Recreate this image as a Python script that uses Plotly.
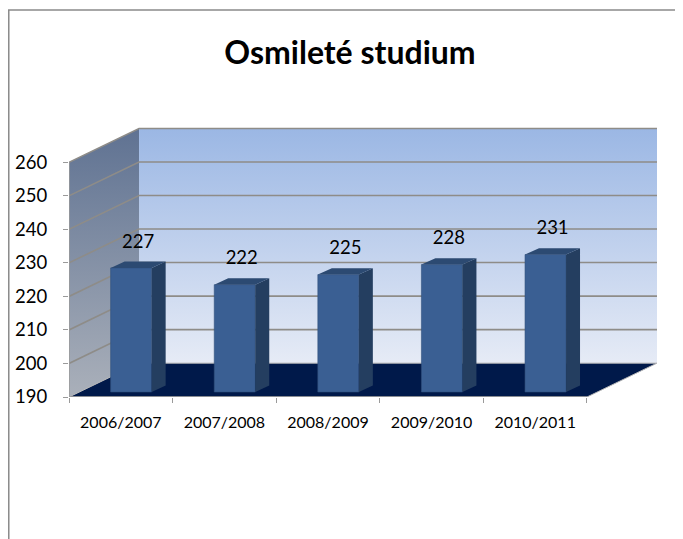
import plotly.graph_objects as go

# data
years = ['2006/2007', '2007/2008', '2008/2009', '2009/2010', '2010/2011']
students = [227, 222, 225, 228, 231]
y_ticks = [190, 200, 210, 220, 230, 240, 250, 260]

FONT = 'Lato'
Y_MIN, Y_MAX = 190, 260
DX, DY = 0.676, 10.1          # depth of the 3D box in axis units
BAR_W, BAR_OFF, BAR_LIFT = 0.396, 0.1, 1.5
BDX, BDY = 0.135, 1.9         # depth of each bar
n = len(years)
x_left, x_right = -0.5, n - 0.5

fig = go.Figure()

# ---- walls and floor (base subplot) ----
fig.add_trace(go.Scatter(
    x=[x_left + DX, x_right + DX, x_right + DX, x_left + DX, x_left + DX],
    y=[Y_MIN + DY, Y_MIN + DY, Y_MAX + DY, Y_MAX + DY, Y_MIN + DY],
    fill='toself', mode='lines', line=dict(width=0),
    fillgradient=dict(type='vertical', colorscale=[[0, '#e6ebf6'], [1, '#9bb7e4']]),
    hoverinfo='skip', showlegend=False))

fig.add_trace(go.Scatter(
    x=[x_left, x_left, x_left + DX, x_left + DX, x_left],
    y=[Y_MIN, Y_MAX, Y_MAX + DY, Y_MIN + DY, Y_MIN],
    fill='toself', mode='lines', line=dict(width=0),
    fillgradient=dict(type='vertical', colorscale=[[0, '#aab0ba'], [1, '#5f7292']]),
    hoverinfo='skip', showlegend=False))

gx, gy = [], []
for v in y_ticks[1:]:
    gx += [x_left, x_left + DX, x_right + DX, None]
    gy += [v, v + DY, v + DY, None]
fig.add_trace(go.Scatter(x=gx, y=gy, mode='lines',
                         line=dict(color='#8e8c88', width=1.6),
                         hoverinfo='skip', showlegend=False))

fig.add_trace(go.Scatter(
    x=[x_left, x_right, x_right + DX, x_left + DX, x_left],
    y=[Y_MIN, Y_MIN, Y_MIN + DY, Y_MIN + DY, Y_MIN],
    fill='toself', mode='lines', line=dict(color='#b8b8b8', width=1),
    fillcolor='#00194a', hoverinfo='skip', showlegend=False))

# front axis lines
fig.add_trace(go.Scatter(
    x=[x_left, x_left, None, x_left, x_right],
    y=[Y_MAX, Y_MIN, None, Y_MIN, Y_MIN],
    mode='lines', line=dict(color='#9a9a9a', width=1.5),
    hoverinfo='skip', showlegend=False))

# ---- bars (overlay subplot) ----
xs = [i + BAR_OFF for i in range(n)]
base = Y_MIN + BAR_LIFT
fig.add_trace(go.Bar(
    x=xs, y=[v - Y_MIN for v in students], base=base, width=BAR_W,
    marker=dict(color='#3a5f93', line=dict(color='#30507c', width=0.6)),
    xaxis='x2', yaxis='y2', showlegend=False))

sx, sy, tx, ty = [], [], [], []
for x, v in zip(xs, students):
    xl, xr = x - BAR_W / 2, x + BAR_W / 2
    top = v + BAR_LIFT
    sx += [xr, xr, xr + BDX, xr + BDX, xr, None]
    sy += [base, top, top + BDY, base + BDY, base, None]
    tx += [xl, xr, xr + BDX, xl + BDX, xl, None]
    ty += [top, top, top + BDY, top + BDY, top, None]

fig.add_trace(go.Scatter(x=sx, y=sy, fill='toself', mode='lines',
                         line=dict(width=0), fillcolor='#243e60',
                         xaxis='x2', yaxis='y2', hoverinfo='skip', showlegend=False))
fig.add_trace(go.Scatter(x=tx, y=ty, fill='toself', mode='lines',
                         line=dict(width=0), fillcolor='#2c4a72',
                         xaxis='x2', yaxis='y2', hoverinfo='skip', showlegend=False))

fig.add_trace(go.Scatter(
    x=[x + BDX / 2 for x in xs], y=[v + BAR_LIFT + 7.4 for v in students],
    text=[str(v) for v in students], mode='text',
    textfont=dict(family=FONT, size=18.5, color='#000000'),
    xaxis='x2', yaxis='y2', hoverinfo='skip', showlegend=False))

x_range = [x_left, 5.205]
y_range = [Y_MIN, 275]

# the page adds an 8px body margin, so the figure is offset by that amount
fig.update_layout(
    width=683, height=539,
    margin=dict(l=61, r=31, t=104, b=150, autoexpand=False),
    paper_bgcolor='white', plot_bgcolor='rgba(0,0,0,0)',
    title=dict(text='<b>Osmileté studium</b>', x=342 / 683, xref='container',
               xanchor='center', y=1 - 45 / 539, yref='container', yanchor='middle',
               font=dict(family=FONT, size=32, color='#000000')),
    xaxis=dict(range=x_range, showgrid=False, zeroline=False, showline=False,
               tickvals=list(range(n)), ticktext=years, ticks='',
               ticklabelstandoff=14,
               tickfont=dict(family=FONT, size=16, color='#000000'),
               minor=dict(tickvals=[i - 0.5 for i in range(n + 1)], ticks='outside',
                          ticklen=5, tickcolor='#9a9a9a', showgrid=False)),
    yaxis=dict(range=y_range, showgrid=False, zeroline=False, showline=False,
               tickvals=y_ticks, ticks='outside', ticklen=5, tickcolor='#9a9a9a',
               ticklabelstandoff=12,
               tickfont=dict(family=FONT, size=18.5, color='#000000')),
    xaxis2=dict(range=x_range, overlaying='x', visible=False),
    yaxis2=dict(range=y_range, overlaying='y', visible=False),
    shapes=[dict(type='rect', xref='paper', yref='paper',
                 x0=-0.1019, x1=1.3, y0=-0.7, y1=1.358,
                 line=dict(color='#8a8a8a', width=1.5), fillcolor='rgba(0,0,0,0)')],
)

fig.write_html('out.html')
